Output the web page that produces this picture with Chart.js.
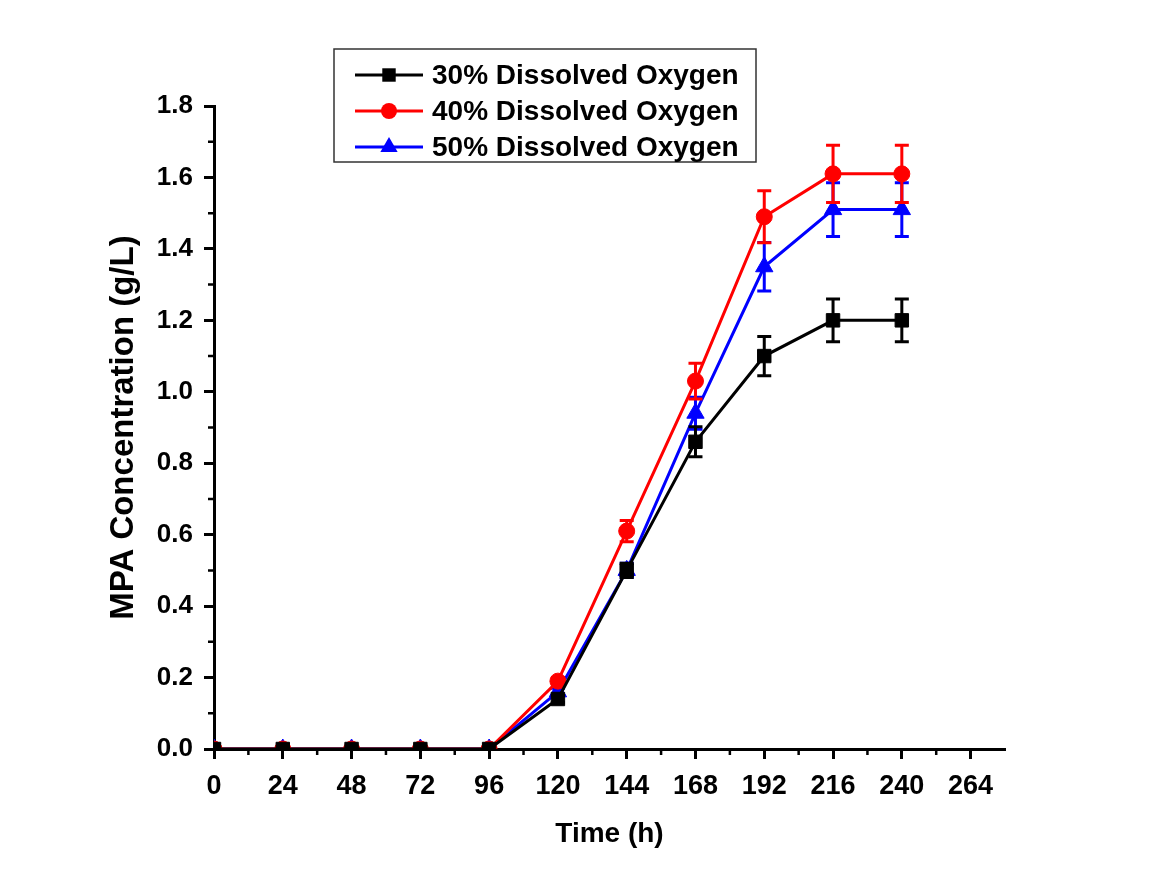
<!DOCTYPE html>
<html>
<head>
<meta charset="utf-8">
<script src="https://cdn.jsdelivr.net/npm/chart.js@4/dist/chart.umd.min.js"></script>
<style>
  html, body { margin: 0; padding: 0; background: #fff; }
  #wrap { width: 1149px; height: 885px; position: relative; }
</style>
</head>
<body>
<div id="wrap"><canvas id="chart"></canvas></div>
<script>
// ---- data ----
const hours = [0, 24, 48, 72, 96, 120, 144, 168, 192, 216, 240];
const hourTicks = [0, 24, 48, 72, 96, 120, 144, 168, 192, 216, 240, 264];

const do30 = [0, 0, 0, 0, 0, 0.14, 0.50, 0.86, 1.10, 1.20, 1.20];
const do30Err = [0, 0, 0, 0, 0, 0.01, 0.02, 0.042, 0.055, 0.06, 0.06];

const do40 = [0, 0, 0, 0, 0, 0.19, 0.61, 1.03, 1.49, 1.61, 1.61];
const do40Err = [0, 0, 0, 0, 0, 0.01, 0.03, 0.05, 0.073, 0.08, 0.08];

const do50 = [0, 0, 0, 0, 0, 0.16, 0.50, 0.94, 1.35, 1.51, 1.51];
const do50Err = [0, 0, 0, 0, 0, 0.01, 0.02, 0.045, 0.068, 0.075, 0.075];

const seriesLabels = ["30% Dissolved Oxygen", "40% Dissolved Oxygen", "50% Dissolved Oxygen"];

const FONT = "'Liberation Sans', Arial, Helvetica, sans-serif";

function pts(ys) { return hours.map((h, i) => ({ x: h, y: ys[i] })); }

function series(label, ys, err, color, style, radius) {
  return {
    label,
    data: pts(ys),
    errors: err,
    borderColor: color,
    backgroundColor: color,
    borderWidth: 3,
    pointStyle: style,
    pointRadius: radius,
    pointHoverRadius: radius,
    pointBorderWidth: 1,
    tension: 0,
  };
}

// ---- error bars: drawn per dataset, just before its line and markers ----
const errorBars = {
  id: "errorBars",
  beforeDatasetDraw(chart, args) {
    const ds = chart.data.datasets[args.index];
    if (!ds.errors) return;
    const { ctx, scales: { x, y } } = chart;
    ctx.save();
    ctx.strokeStyle = ds.borderColor;
    ctx.lineWidth = 3;
    ds.data.forEach((p, i) => {
      const e = ds.errors[i];
      if (!e) return;
      const px = x.getPixelForValue(p.x);
      const top = y.getPixelForValue(p.y + e);
      const bot = y.getPixelForValue(p.y - e);
      ctx.beginPath();
      ctx.moveTo(px, top); ctx.lineTo(px, bot);
      ctx.moveTo(px - 7, top); ctx.lineTo(px + 7, top);
      ctx.moveTo(px - 7, bot); ctx.lineTo(px + 7, bot);
      ctx.stroke();
    });
    ctx.restore();
  },
};

// ---- minor ticks halfway between the major ones ----
const minorTicks = {
  id: "minorTicks",
  afterDraw(chart) {
    const { ctx, scales: { x, y }, chartArea } = chart;
    ctx.save();
    ctx.strokeStyle = "#000";
    ctx.lineWidth = 2.5;
    ctx.beginPath();
    for (let i = 0; i < x.ticks.length - 1; i++) {
      const px = (x.getPixelForValue(x.ticks[i].value) + x.getPixelForValue(x.ticks[i + 1].value)) / 2;
      ctx.moveTo(px, chartArea.bottom); ctx.lineTo(px, chartArea.bottom + 6);
    }
    for (let i = 0; i < y.ticks.length - 1; i++) {
      const py = (y.getPixelForValue(y.ticks[i].value) + y.getPixelForValue(y.ticks[i + 1].value)) / 2;
      ctx.moveTo(chartArea.left, py); ctx.lineTo(chartArea.left - 6, py);
    }
    ctx.stroke();
    ctx.restore();
  },
};

// ---- framed legend sitting over the top of the plot ----
function drawMarker(ctx, style, cx, cy, r) {
  ctx.beginPath();
  if (style === "rect") {
    const s = r * Math.SQRT1_2;
    ctx.rect(cx - s, cy - s, 2 * s, 2 * s);
  } else if (style === "circle") {
    ctx.arc(cx, cy, r, 0, Math.PI * 2);
  } else if (style === "triangle") {
    ctx.moveTo(cx, cy - r);
    ctx.lineTo(cx + r * Math.sin(Math.PI * 2 / 3), cy - r * Math.cos(Math.PI * 2 / 3));
    ctx.lineTo(cx - r * Math.sin(Math.PI * 2 / 3), cy - r * Math.cos(Math.PI * 2 / 3));
    ctx.closePath();
  }
  ctx.fill();
}

const boxLegend = {
  id: "boxLegend",
  afterDraw(chart) {
    const ctx = chart.ctx;
    const box = { x: 334, y: 49, w: 422, h: 113 };
    ctx.save();
    ctx.fillStyle = "#fff";
    ctx.fillRect(box.x, box.y, box.w, box.h);
    ctx.strokeStyle = "#333";
    ctx.lineWidth = 1.5;
    ctx.strokeRect(box.x, box.y, box.w, box.h);
    ctx.font = "bold 28px " + FONT;
    ctx.textBaseline = "middle";
    chart.data.datasets.forEach((ds, i) => {
      const cy = box.y + 26 + i * 36;
      ctx.strokeStyle = ds.borderColor;
      ctx.lineWidth = 3;
      ctx.beginPath();
      ctx.moveTo(355, cy); ctx.lineTo(423, cy);
      ctx.stroke();
      ctx.fillStyle = ds.backgroundColor;
      drawMarker(ctx, ds.pointStyle, 389, cy, ds.pointRadius);
      ctx.fillStyle = "#000";
      ctx.fillText(ds.label, 432, cy + 1);
    });
    ctx.restore();
  },
};

new Chart(document.getElementById("chart"), {
  type: "line",
  data: {
    datasets: [
      series(seriesLabels[0], do30, do30Err, "#000000", "rect", 9.5),
      series(seriesLabels[1], do40, do40Err, "#ff0000", "circle", 8),
      series(seriesLabels[2], do50, do50Err, "#0000ff", "triangle", 10),
    ],
  },
  options: {
    animation: false,
    responsive: true,
    maintainAspectRatio: false,
    events: [],
    layout: { padding: { left: 104, right: 144, top: 106, bottom: 34 } },
    plugins: { legend: { display: false }, tooltip: { enabled: false } },
    scales: {
      x: {
        type: "linear",
        min: 0,
        max: 276,
        afterBuildTicks: s => { s.ticks = hourTicks.map(v => ({ value: v })); },
        afterFit: s => { s.height = 885 - 749 - 34; },
        ticks: {
          color: "#000",
          font: { family: FONT, size: 27, weight: "bold" },
          padding: 11,
          maxRotation: 0,
          autoSkip: false,
        },
        grid: { drawOnChartArea: false, drawTicks: true, tickLength: 10, tickWidth: 3, tickColor: "#000" },
        border: { display: true, color: "#000", width: 3 },
        title: {
          display: true,
          text: "Time (h)",
          color: "#000",
          font: { family: FONT, size: 28, weight: "bold" },
          padding: { top: 10, bottom: 0 },
        },
      },
      y: {
        min: 0,
        max: 1.8,
        afterFit: s => { s.width = 214 - 104; },
        ticks: {
          stepSize: 0.2,
          color: "#000",
          font: { family: FONT, size: 26, weight: "bold" },
          padding: 11,
          callback: v => v.toFixed(1),
        },
        grid: { drawOnChartArea: false, drawTicks: true, tickLength: 10, tickWidth: 3, tickColor: "#000" },
        border: { display: true, color: "#000", width: 3 },
        title: {
          display: true,
          text: "MPA Concentration (g/L)",
          color: "#000",
          font: { family: FONT, size: 33, weight: "bold" },
          padding: { top: 0, bottom: 4 },
        },
      },
    },
  },
  plugins: [errorBars, minorTicks, boxLegend],
});
</script>
</body>
</html>
